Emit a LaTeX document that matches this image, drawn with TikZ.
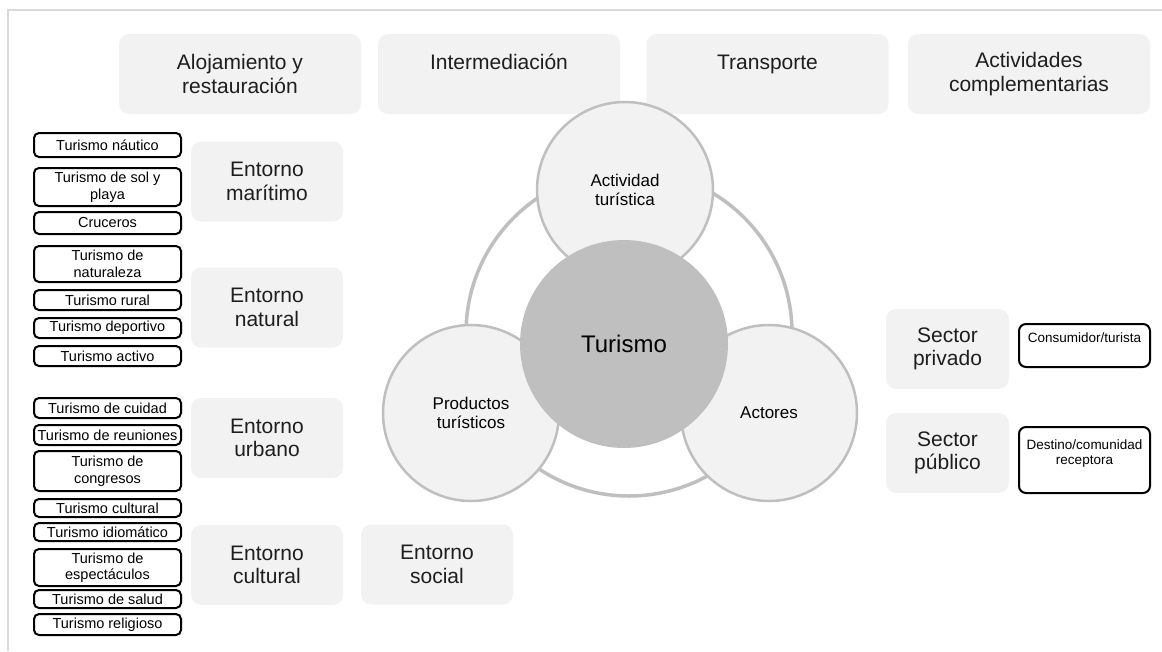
\documentclass[tikz,border=0pt]{standalone}
\usepackage{fontspec}
\setmainfont{Liberation Sans}
\definecolor{boxgray}{HTML}{F2F2F2}
\definecolor{ringgray}{HTML}{BFBFBF}
\definecolor{framegray}{HTML}{D9D9D9}
\definecolor{txt}{HTML}{1E1E1E}
\begin{document}
\begin{tikzpicture}[x=1pt,y=-1pt,
  graybox/.style={fill=boxgray, draw=none, rounded corners=10pt, align=center, inner sep=0pt,
     text=txt, font=\fontsize{21}{23.5}\selectfont},
  topbox/.style={graybox, minimum width=242pt, minimum height=80pt},
  envbox/.style={graybox, minimum width=152pt, minimum height=80pt},
  secbox/.style={graybox, minimum width=123pt, minimum height=80pt},
  tbox/.style={draw=black, line width=2pt, fill=white, rounded corners=5pt, align=center,
     inner sep=0pt, minimum width=147pt, font=\fontsize{14.5}{16.5}\selectfont},
  rbox/.style={draw=black, line width=2pt, fill=white, rounded corners=7pt, align=center,
     inner sep=0pt, minimum width=131pt, font=\fontsize{13.5}{15}\selectfont},
  subcirc/.style={circle, draw=ringgray, line width=2.5pt, fill=boxgray, minimum size=176pt,
     inner sep=0pt, align=center, font=\fontsize{17}{19}\selectfont},
  ringc/.style={circle, draw=ringgray, line width=3.5pt, minimum size=326pt, inner sep=0pt},
  centc/.style={circle, fill=ringgray, draw=none, minimum size=208pt, inner sep=0pt,
     font=\fontsize{24}{26}\selectfont}
]
\useasboundingbox (0,0) rectangle (1162,651);
\draw[framegray, line width=1.3pt] (1162,10) -- (8,10) -- (8,651);

% top boxes
\node[topbox] (aloj) at (240,74) {Alojamiento y\\restauración};
\node[topbox] (inter) at (499,74) {Intermediación\\\mbox{}};
\node[topbox] (trans) at (767.5,74) {Transporte\\\mbox{}};
\node[topbox] (activ) at (1029,74) {Actividades\\complementarias};

% entorno boxes
\node[envbox] (mar) at (267,181.5) {Entorno\\marítimo};
\node[envbox] (nat) at (267,307.5) {Entorno\\natural};
\node[envbox] (urb) at (267,438) {Entorno\\urbano};
\node[envbox] (cul) at (267,565) {Entorno\\cultural};
\node[envbox] (soc) at (437,564.5) {Entorno\\social};

% sector boxes
\node[secbox] (priv) at (947.5,349) {Sector\\privado};
\node[secbox] (pub) at (947.5,453) {Sector\\público};
\node[rbox, minimum height=43pt] (cons) at (1084.5,345.5) {Consumidor/turista\\\mbox{}};
\node[rbox, minimum height=66pt] (dest) at (1084.5,460) {Destino/comunidad\\receptora\\\mbox{}};

% tourism type boxes
\node[tbox, minimum height=24pt] (t1) at (107.5,145) {Turismo náutico};
\node[tbox, minimum height=38pt] (t2) at (107.5,187) {Turismo de sol y\\playa};
\node[tbox, minimum height=22pt] (t3) at (107.5,223) {Cruceros};
\node[tbox, minimum height=36pt] (t4) at (107.5,264) {Turismo de\\naturaleza};
\node[tbox, minimum height=20pt] (t5) at (107.5,300) {Turismo rural};
\node[tbox, minimum height=20pt] (t6) at (107.5,328) {Turismo deportivo};
\node[tbox, minimum height=20pt] (t7) at (107.5,356) {Turismo activo};
\node[tbox, minimum height=20pt] (t8) at (107.5,408) {Turismo de cuidad};
\node[tbox, minimum height=20pt] (t9) at (107.5,435) {Turismo de reuniones};
\node[tbox, minimum height=40pt] (t10) at (107.5,471) {Turismo de\\congresos};
\node[tbox, minimum height=18pt] (t11) at (107.5,508) {Turismo cultural};
\node[tbox, minimum height=18pt] (t12) at (107.5,532) {Turismo idiomático};
\node[tbox, minimum height=37pt] (t13) at (107.5,567.5) {Turismo de\\espectáculos};
\node[tbox, minimum height=18pt] (t14) at (107.5,599) {Turismo de salud};
\node[tbox, minimum height=21pt] (t15) at (107.5,624.5) {Turismo religioso};

% circles
\node[ringc] (ring) at (629,333) {};
\node[subcirc] (act) at (625,190) {Actividad\\turística};
\node[subcirc] (prod) at (471,413) {Productos\\turísticos};
\node[subcirc] (actores) at (769,413) {Actores};
\node[centc] (tur) at (624,344) {Turismo};
\end{tikzpicture}
\end{document}
